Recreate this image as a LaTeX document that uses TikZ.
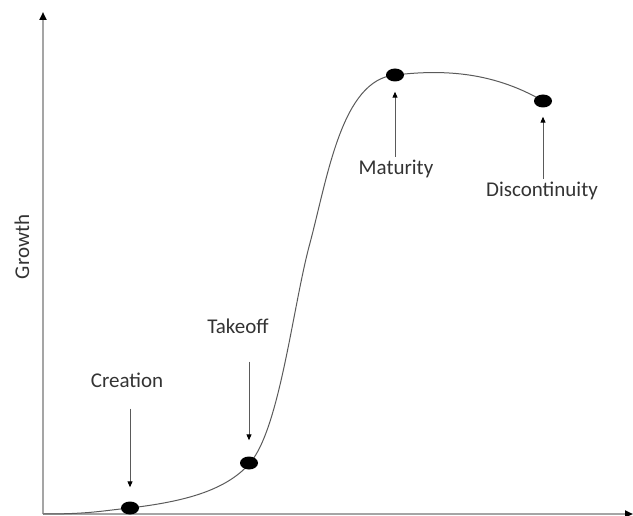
\documentclass[tikz,border=0pt]{standalone}
\usepackage{fontspec}
\setmainfont{Carlito}
\usetikzlibrary{positioning, arrows.meta, shapes.geometric}
\definecolor{axisgray}{RGB}{165,165,165}
\definecolor{curvegray}{RGB}{90,90,90}

\begin{document}
\begin{tikzpicture}[x=1pt, y=-1pt, >=Stealth,
            font=\fontsize{21}{24}\selectfont,
            phase/.style={ellipse, fill=black, inner sep=0pt,
            minimum width=18pt, minimum height=13pt},
            phaselabel/.style={text=black!80, inner sep=1pt},
            pointer/.style={->, draw=curvegray, line width=1pt,
            >={Triangle[length=6pt, width=5pt, color=black]}},
            axis/.style={draw=axisgray, line width=2pt,
            -{Triangle[length=8pt, width=7pt, color=black]}}]
          \useasboundingbox (0,0) rectangle (633,516);
          \coordinate (origin) at (43,514);
          \coordinate (ytop) at (43,12);
          \coordinate (xend) at (633,514);
          \draw[axis] (origin) -- (ytop);
          \draw[axis] (origin) -- (xend);
          \node[rotate=90, phaselabel] (growth) at (22,247) {Growth};
          % the s-curve
          \draw[curvegray, line width=1pt] (origin)
              .. controls (90,514) and (100,511) .. (130,508)
              .. controls (180,502) and (225,492) .. (250,463)
              .. controls (280,428) and (293,305) .. (310,243)
              .. controls (328,175) and (342,80) .. (395,75)
              .. controls (438,70) and (490,70) .. (543,101);
          \node[phase] (creation) at (130,508) {};
          \node[phase] (takeoff) at (249,463) {};
          \node[phase] (maturity) at (395,75) {};
          \node[phase] (discont) at (543,101) {};
          \node[phaselabel] (creationlbl) at (127,380) {Creation};
          \node[phaselabel] (takeofflbl) at (238,326) {Takeoff};
          \node[phaselabel] (maturitylbl) at (396,169) {Maturity};
          \node[phaselabel] (discontlbl) at (542,191) {Discontinuity};
          \draw[pointer, shorten <=20pt, shorten >=14pt]
                (creationlbl.south -| creation) -- (creation.north);
          \draw[pointer, shorten <=27pt, shorten >=16pt]
                (takeofflbl.south -| takeoff) -- (takeoff.north);
          \draw[pointer, shorten <=2pt, shorten >=10pt]
                (maturitylbl.north -| maturity) -- (maturity.south);
          \draw[pointer, shorten <=2pt, shorten >=9pt]
                (discontlbl.north -| discont) -- (discont.south);
        \end{tikzpicture}
\end{document}
